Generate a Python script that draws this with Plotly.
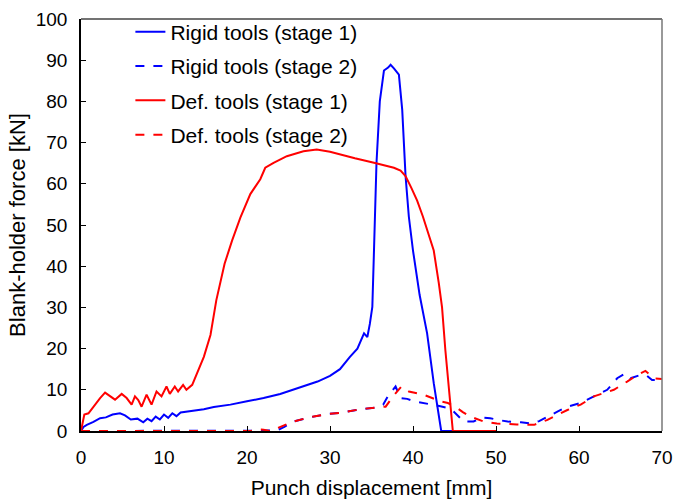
import plotly.graph_objects as go

# Rigid tools (stage 1)
rig1_x = [0, 0.3, 0.7, 1.5, 2.3, 3.0, 3.8, 4.7, 5.3, 6.0, 6.8, 7.5, 8.0, 8.5, 9.0, 9.5, 10.0, 10.5, 11.0, 11.5, 12.0, 13.0, 14.0, 14.8, 16.0, 18.0, 20.0, 22.0, 24.0, 25.6, 27.0, 28.5, 30.0, 31.2, 32.4, 33.3, 34.1, 34.5, 34.8, 35.1, 35.3, 35.6, 36.0, 36.5, 37.0, 37.3, 37.7, 38.0, 38.3, 38.7, 39.1, 39.5, 40.0, 40.8, 41.7, 42.5, 43.0, 43.4, 44.0, 46.0, 48.0, 50.0]
rig1_y = [0, 1.0, 1.5, 2.2, 3.1, 3.3, 4.0, 4.3, 3.8, 2.8, 3.0, 2.1, 3.0, 2.4, 3.5, 2.8, 4.0, 3.2, 4.3, 3.6, 4.5, 4.8, 5.0, 5.3, 5.8, 6.4, 7.2, 8.0, 9.0, 10.0, 11.0, 12.0, 13.4, 15.0, 18.0, 20.0, 23.7, 22.8, 26.0, 30.1, 43.8, 65.0, 80.0, 87.5, 88.2, 88.9, 88.0, 87.2, 86.5, 78.0, 62.0, 52.0, 43.8, 33.0, 23.7, 11.6, 5.0, 0.0, 0, 0, 0, 0]

# Rigid tools (stage 2)
rig2_x = [0, 5, 10, 15, 20, 23.0, 23.6, 24.5, 25.6, 27.5, 29.6, 31.2, 33.7, 35.5, 36.4, 37.0, 37.9, 38.5, 39.3, 40.2, 41.3, 42.3, 43.3, 44.2, 44.9, 46.1, 47.3, 48.3, 49.3, 50.5, 51.4, 53.0, 54.2, 55.2, 56.2, 57.4, 58.6, 60.2, 61.8, 63.4, 64.6, 65.6, 66.2, 67.4, 68.2, 68.8, 70.0]
rig2_y = [0, 0, 0, 0, 0, 0, 0.1, 1.0, 2.3, 3.3, 4.1, 4.4, 5.3, 5.7, 6.4, 8.5, 10.8, 8.0, 7.8, 7.2, 6.8, 6.5, 6.0, 5.6, 4.7, 2.3, 2.3, 3.3, 3.1, 2.6, 2.3, 2.1, 1.8, 2.4, 3.5, 4.7, 5.9, 6.8, 8.4, 10.0, 12.8, 14.0, 12.8, 13.6, 13.4, 12.4, 12.4]

# Def. tools (stage 1)
def1_x = [0, 0.4, 0.9, 1.5, 2.3, 2.9, 3.5, 4.1, 4.9, 5.5, 6.1, 6.5, 6.9, 7.3, 7.9, 8.5, 9.1, 9.7, 10.3, 10.7, 11.3, 11.7, 12.3, 12.7, 13.4, 14.0, 14.8, 15.6, 16.3, 17.3, 18.2, 19.2, 20.4, 21.6, 22.2, 23.2, 24.8, 26.8, 28.4, 30.0, 31.2, 33.0, 35.3, 37.7, 38.5, 39.1, 39.8, 40.5, 41.2, 41.9, 42.5, 43.1, 43.5, 43.9, 44.4, 44.8, 46.0, 48.0, 50.0]
def1_y = [0, 4.0, 4.3, 6.0, 8.0, 9.3, 8.5, 7.6, 9.0, 8.0, 6.4, 8.4, 7.5, 5.9, 8.8, 6.4, 9.6, 8.4, 10.8, 9.0, 10.8, 9.6, 11.2, 10.0, 11.2, 14.0, 18.0, 23.3, 31.7, 40.6, 46.2, 51.8, 57.5, 61.1, 63.9, 65.1, 66.7, 67.9, 68.3, 67.8, 67.1, 66.2, 65.1, 63.9, 63.2, 61.9, 59.0, 55.9, 52.0, 47.8, 43.8, 36.0, 30.0, 19.6, 9.0, 0.0, 0, 0, 0]

# Def. tools (stage 2)
def2_x = [0, 5, 10, 15, 20.4, 21.3, 22.0, 22.8, 24.0, 25.6, 27.5, 29.6, 31.2, 33.7, 35.5, 36.7, 37.6, 38.6, 39.5, 40.3, 41.3, 42.3, 43.3, 44.2, 45.1, 46.0, 46.9, 48.5, 50.1, 52.5, 54.6, 56.2, 57.4, 58.6, 60.2, 61.8, 63.0, 64.2, 65.8, 67.0, 68.0, 69.0, 70.0]
def2_y = [0, 0, 0, 0, 0, 0.4, 0.3, 0.0, 1.0, 2.3, 3.3, 4.1, 4.4, 5.3, 5.7, 5.9, 8.4, 10.8, 9.6, 9.2, 8.8, 8.0, 7.2, 6.8, 5.9, 4.6, 3.5, 2.3, 1.8, 1.6, 1.5, 2.7, 3.9, 5.1, 6.4, 8.4, 9.2, 10.0, 12.0, 13.6, 14.6, 12.8, 12.6]

x_ticks = [0, 10, 20, 30, 40, 50, 60, 70]
y_ticks = [0, 10, 20, 30, 40, 50, 60, 70, 80, 90, 100]

BLUE = "#0000ff"
RED = "#ff0000"
FONT = "Liberation Sans, Arial, sans-serif"

fig = go.Figure()
series = [
    ("Rigid tools (stage 1)", rig1_x, rig1_y, BLUE, "solid"),
    ("Rigid tools (stage 2)", rig2_x, rig2_y, BLUE, "dash"),
    ("Def. tools (stage 1)", def1_x, def1_y, RED, "solid"),
    ("Def. tools (stage 2)", def2_x, def2_y, RED, "dash"),
]
for i, (name, xs, ys, col, dash) in enumerate(series):
    fig.add_trace(go.Scatter(x=xs, y=ys, mode="lines", name=name,
                             legendgroup=f"g{i}",
                             line=dict(color=col, width=2, dash=dash)))

fig.update_layout(
    width=677, height=501,
    margin=dict(l=81, r=15, t=17, b=70),
    paper_bgcolor="white", plot_bgcolor="white",
    font=dict(family=FONT, size=19, color="black"),
    showlegend=True,
    legend=dict(x=0.085, y=1.018, xanchor="left", yanchor="top",
                bgcolor="rgba(0,0,0,0)", font=dict(size=21),
                tracegroupgap=4),
    xaxis=dict(range=[0, 70], tickvals=x_ticks, ticks="inside", ticklen=5,
               tickcolor="black", showline=True, linecolor="black", linewidth=1.5,
               showgrid=False, zeroline=False, automargin=False,
               ticklabelstandoff=8, tickfont=dict(size=19),
               title=dict(text="Punch displacement [mm]", standoff=14,
                          font=dict(size=21))),
    yaxis=dict(range=[0, 100], tickvals=y_ticks, ticks="inside", ticklen=5,
               tickcolor="black", showline=True, linecolor="black", linewidth=1.5,
               showgrid=False, zeroline=False, automargin=False,
               ticklabelstandoff=8, tickfont=dict(size=19),
               title=dict(text="Blank-holder force [kN]", standoff=4,
                          font=dict(size=22))),
    shapes=[
        dict(type="line", xref="paper", yref="paper", x0=0, x1=1, y0=1, y1=1,
             line=dict(color="#444444", width=1.5)),
        dict(type="line", xref="paper", yref="paper", x0=1, x1=1, y0=0, y1=1,
             line=dict(color="#777777", width=1.5)),
    ],
)

fig.write_html("out.html")
